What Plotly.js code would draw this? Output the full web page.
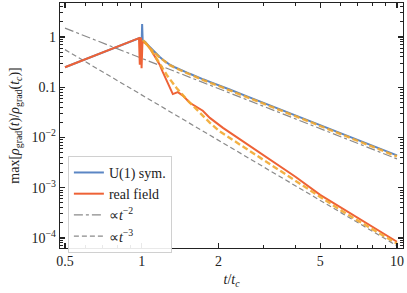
<!DOCTYPE html>
<html>
<head>
<meta charset="utf-8">
<script src="https://cdn.plot.ly/plotly-3.0.1.min.js"></script>
<style>html,body{margin:0;padding:0;background:#fff;}#chart{width:407px;height:293px;}</style>
</head>
<body>
<div id="chart"></div>
<script>
// ---- data ----
const tU1 = [0.5, 0.98, 1.0, 1.003, 1.008, 1.03, 1.075, 1.124, 1.176, 1.231, 1.288, 1.347, 1.409, 1.474, 1.542, 1.643, 1.75, 1.848, 1.97, 2.21, 2.6, 3.0, 3.5, 4.0, 5.0, 6.0, 7.0, 8.0, 9.0, 10.0];
const vU1 = [0.25, 0.95, 0.95, 1.8, 0.85, 0.8, 0.63, 0.5, 0.4, 0.33, 0.28, 0.25, 0.23, 0.205, 0.185, 0.16, 0.142, 0.128, 0.114, 0.09, 0.065, 0.049, 0.036, 0.0275, 0.0176, 0.0122, 0.009, 0.0069, 0.0054, 0.0044];

const tReal = [0.5, 0.975, 0.982, 0.988, 0.993, 0.998, 1.006, 1.02, 1.045, 1.075, 1.124, 1.176, 1.209, 1.265, 1.323, 1.384, 1.448, 1.542, 1.643, 1.734, 1.848, 1.97, 2.08, 2.3, 2.5, 3.0, 3.5, 4.0, 5.0, 6.0, 7.0, 8.0, 9.0, 10.0];
const vReal = [0.25, 0.95, 0.28, 0.93, 0.97, 0.24, 0.8, 0.78, 0.72, 0.6, 0.42, 0.28, 0.2, 0.12, 0.073, 0.08, 0.068, 0.049, 0.04, 0.034, 0.0245, 0.019, 0.0155, 0.011, 0.0083, 0.0044, 0.0026, 0.00165, 0.00072, 0.00041, 0.000253, 0.000168, 0.000117, 0.000084];

const tFitU1 = [1.01, 1.075, 1.176, 1.288, 1.409, 1.542, 1.75, 1.97, 2.21, 2.6, 3.0, 4.0, 5.0, 7.0, 10.0];
const vFitU1 = [0.87, 0.6, 0.39, 0.275, 0.22, 0.178, 0.137, 0.109, 0.086, 0.062, 0.047, 0.0265, 0.0169, 0.0086, 0.0042];

const tFitReal = [1.03, 1.075, 1.155, 1.253, 1.371, 1.5, 1.69, 1.85, 2.02, 2.5, 3.0, 4.0, 5.0, 6.0, 7.0, 8.0, 10.0];
const vFitReal = [0.78, 0.6, 0.34, 0.175, 0.095, 0.057, 0.031, 0.0195, 0.0132, 0.0065, 0.0036, 0.00137, 0.00064, 0.00036, 0.000224, 0.000149, 0.000077];

const tRef = [0.5, 10];
const vT2 = [1.5, 0.00375];
const vT3 = [0.56, 0.00007];

const names = ['U(1) sym.', 'real field', '∝<i>t</i><sup>−2</sup>', '∝<i>t</i><sup>−3</sup>'];

const xTickVals = [0.5, 1, 2, 5, 10];
const xTickText = ['0.5', '1', '2', '5', '10'];
const xMinor = [0.6, 0.7, 0.8, 0.9, 3, 4, 6, 7, 8, 9];
const yTickVals = [1, 0.1, 0.01, 0.001, 0.0001];
const yTickText = ['1', '0.1', '10<sup>−2</sup>', '10<sup>−3</sup>', '10<sup>−4</sup>'];
const yMinor = [];
[0.00001, 0.0001, 0.001, 0.01, 0.1, 1].forEach(d => { for (let k = 2; k <= 9; k++) yMinor.push(d * k); });

// ---- styles ----
const cBlue = '#5b86c4';
const cRed = '#ee6236';
const cFit = 'rgba(242,168,48,0.9)';
const cGray = '#8a8a8a';
const font = "'Liberation Serif', 'Times New Roman', serif";

const traces = [
  {x: tRef, y: vT2, mode: 'lines', name: names[2], legendrank: 3, line: {color: cGray, width: 1.2, dash: 'dashdot'}},
  {x: tRef, y: vT3, mode: 'lines', name: names[3], legendrank: 4, line: {color: cGray, width: 1.2, dash: '5px,3px'}},
  {x: tU1, y: vU1, mode: 'lines', name: names[0], legendrank: 1, line: {color: cBlue, width: 2}},
  {x: tReal, y: vReal, mode: 'lines', name: names[1], legendrank: 2, line: {color: cRed, width: 2}},
  {x: tFitU1, y: vFitU1, mode: 'lines', showlegend: false, line: {color: cFit, width: 2.4, dash: '6px,3px'}},
  {x: tFitReal, y: vFitReal, mode: 'lines', showlegend: false, line: {color: cFit, width: 2.4, dash: '6px,3px'}}
];

const axCommon = {
  type: 'log', showgrid: false, zeroline: false,
  showline: true, linecolor: '#222', linewidth: 1.3, mirror: 'allticks',
  ticks: 'inside', ticklen: 5, tickwidth: 1.1, tickcolor: '#222',
  tickfont: {family: font, size: 14, color: '#222'},
  tickmode: 'array'
};

const layout = {
  width: 407, height: 293,
  margin: {l: 60, r: 4, t: 3, b: 45},
  paper_bgcolor: '#fff', plot_bgcolor: '#fff',
  font: {family: font, color: '#222'},
  showlegend: true,
  xaxis: Object.assign({}, axCommon, {
    range: [Math.log10(0.478), Math.log10(10.56)],
    tickvals: xTickVals, ticktext: xTickText,
    minor: {tickmode: 'array', tickvals: xMinor, ticks: 'inside', ticklen: 3, tickwidth: 1, tickcolor: '#222'},
    title: {text: '<i>t</i>/<i>t<sub>c</sub></i>', font: {family: font, size: 14, color: '#222'}, standoff: 6}
  }),
  yaxis: Object.assign({}, axCommon, {
    range: [-4.2, 0.676],
    tickvals: yTickVals, ticktext: yTickText,
    minor: {tickmode: 'array', tickvals: yMinor, ticks: 'inside', ticklen: 3, tickwidth: 1, tickcolor: '#222'},
    title: {text: 'max[<i>ρ</i><sub>grad</sub>(<i>t</i>)/<i>ρ</i><sub>grad</sub>(<i>t<sub>c</sub></i>)]', font: {family: font, size: 14, color: '#222'}, standoff: 8}
  }),
  legend: {
    x: 0.023, y: 0.376, xanchor: 'left', yanchor: 'top',
    bgcolor: 'rgba(255,255,255,0.9)', bordercolor: '#d0d0d0', borderwidth: 1,
    font: {family: font, size: 14, color: '#222'},
    itemwidth: 30, tracegroupgap: 0
  }
};

Plotly.newPlot('chart', traces, layout, {displayModeBar: false, staticPlot: true});
</script>
</body>
</html>
